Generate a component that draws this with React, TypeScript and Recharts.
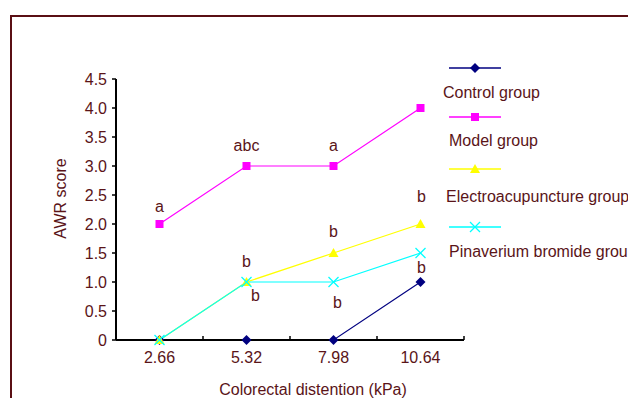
import React from "react";
import { LineChart, Line, XAxis, YAxis, LabelList, ReferenceLine } from "recharts";

const categories = ["2.66", "5.32", "7.98", "10.64"];
const controlValues = [0, 0, 0, 1];
const modelValues = [2, 3, 3, 4];
const electroValues = [0, 1, 1.5, 2];
const pinaveriumValues = [0, 1, 1, 1.5];
const controlMarks = ["", "", "", "b"];
const modelMarks = ["a", "abc", "a", ""];
const electroMarks = ["", "b", "b", "b"];
const pinaveriumMarks = ["", "b", "b", ""];
const yTicks = [0, 0.5, 1, 1.5, 2, 2.5, 3, 3.5, 4, 4.5];
const seriesNames = ["Control group", "Model group", "Electroacupuncture group", "Pinaverium bromide group"];
const xTitle = "Colorectal distention (kPa)";
const yTitle = "AWR score";

const data = categories.map((c, i) => ({
  x: i + 0.5,
  label: c,
  control: controlValues[i],
  model: modelValues[i],
  electro: electroValues[i],
  pina: pinaveriumValues[i],
}));

const TEXT = "#5a1418";
const FONT = "'Liberation Sans', Arial, sans-serif";
const COLORS = ["#000080", "#ff00ff", "#ffff00", "#00ffff"];

const Diamond = (p: any) => {
  const { cx, cy } = p;
  if (cx == null || cy == null) return null;
  return <polygon key={p.index} points={`${cx},${cy - 5} ${cx + 5},${cy} ${cx},${cy + 5} ${cx - 5},${cy}`} fill={COLORS[0]} />;
};
const Square = (p: any) => {
  const { cx, cy } = p;
  if (cx == null || cy == null) return null;
  return <rect key={p.index} x={cx - 4} y={cy - 4} width={8} height={8} fill={COLORS[1]} />;
};
const Triangle = (p: any) => {
  const { cx, cy } = p;
  if (cx == null || cy == null) return null;
  return <polygon key={p.index} points={`${cx},${cy - 5} ${cx + 5},${cy + 4} ${cx - 5},${cy + 4}`} fill={COLORS[2]} />;
};
const Cross = (p: any) => {
  const { cx, cy } = p;
  if (cx == null || cy == null) return null;
  return (
    <g key={p.index} stroke={COLORS[3]} strokeWidth={1.3}>
      <line x1={cx - 5} y1={cy - 5} x2={cx + 5} y2={cy + 5} />
      <line x1={cx - 5} y1={cy + 5} x2={cx + 5} y2={cy - 5} />
    </g>
  );
};

const markStyle: Record<string, { dx: number[]; dy: number[] }> = {
  control: { dx: [0, 0, 0, 1], dy: [0, 0, 0, -15] },
  model: { dx: [0, 0, 0, 0], dy: [-18, -21, -21, 0] },
  electro: { dx: [0, 0, 0, 1], dy: [0, -21, -22, -28] },
  pina: { dx: [0, 9, 4, 0], dy: [0, 13, 20, 0] },
};

const makeLabel = (marks: string[], key: string) => (props: any) => {
  const { x, y, index } = props;
  const t = marks[index];
  if (!t) return null;
  return (
    <text
      key={index}
      x={x + markStyle[key].dx[index]}
      y={y + markStyle[key].dy[index]}
      textAnchor="middle"
      dominantBaseline="central"
      fill={TEXT}
      fontSize={16}
      fontFamily={FONT}
    >
      {t}
    </text>
  );
};

const XTitle = (props: any) => {
  const vb = props.viewBox || {};
  const cx = vb.x + vb.width / 2 + 23;
  const cy = vb.y + 49;
  return (
    <text x={cx} y={cy} textAnchor="middle" dominantBaseline="central" fill={TEXT} fontSize={16} fontFamily={FONT}>
      {xTitle}
    </text>
  );
};

const YTitle = (props: any) => {
  const vb = props.viewBox || {};
  const cx = vb.x - 16;
  const cy = vb.y + vb.height / 2 - 11;
  return (
    <text
      x={cx}
      y={cy}
      transform={`rotate(-90 ${cx} ${cy})`}
      textAnchor="middle"
      dominantBaseline="central"
      fill={TEXT}
      fontSize={16}
      fontFamily={FONT}
    >
      {yTitle}
    </text>
  );
};

const legendLayout = [
  { lineTop: 0, textLeft: -3, textTop: 16 },
  { lineTop: 49, textLeft: 3, textTop: 64 },
  { lineTop: 101, textLeft: 0, textTop: 120 },
  { lineTop: 159, textLeft: 3, textTop: 175 },
];

const LegendMarker = ({ i }: { i: number }) => {
  const cx = 26, cy = 6;
  const marker =
    i === 0 ? <polygon points={`${cx},${cy - 5} ${cx + 5},${cy} ${cx},${cy + 5} ${cx - 5},${cy}`} fill={COLORS[0]} /> :
    i === 1 ? <rect x={cx - 4} y={cy - 4} width={8} height={8} fill={COLORS[1]} /> :
    i === 2 ? <polygon points={`${cx},${cy - 5} ${cx + 5},${cy + 4} ${cx - 5},${cy + 4}`} fill={COLORS[2]} /> :
    <g stroke={COLORS[3]} strokeWidth={1.3}><line x1={cx - 5} y1={cy - 5} x2={cx + 5} y2={cy + 5} /><line x1={cx - 5} y1={cy + 5} x2={cx + 5} y2={cy - 5} /></g>;
  return (
    <svg width={52} height={12} style={{ display: "block" }}>
      <line x1={0} y1={cy} x2={52} y2={cy} stroke={COLORS[i]} strokeWidth={1.3} />
      {marker}
    </svg>
  );
};

const CustomLegend = () => (
  <div style={{ position: "absolute", left: 438, top: 54, width: 200, height: 200, fontFamily: FONT, fontSize: 16, color: TEXT }}>
    {seriesNames.map((n, i) => (
      <React.Fragment key={n}>
        <div style={{ position: "absolute", left: 3, top: legendLayout[i].lineTop }}>
          <LegendMarker i={i} />
        </div>
        <div style={{ position: "absolute", left: legendLayout[i].textLeft, top: legendLayout[i].textTop + 6, whiteSpace: "nowrap", lineHeight: "18px" }}>
          {n}
        </div>
      </React.Fragment>
    ))}
  </div>
);

export default function App() {
  return (
    <div style={{ position: "relative", width: 628, height: 390, overflow: "hidden" }}>
      <div
        style={{
          position: "absolute",
          left: 2,
          top: 7,
          width: 640,
          height: 400,
          borderLeft: "2px solid #5a0f14",
          borderTop: "2px solid #5a0f14",
        }}
      />
      <div style={{ position: "absolute", left: 0, top: 0 }}>
        <LineChart width={628} height={390} data={data} margin={{ top: 71, right: 172, bottom: 0, left: 68 }}>
          <XAxis
            dataKey="x"
            type="number"
            domain={[0, 4]}
            ticks={data.map((d) => d.x)}
            tickFormatter={(v: number) => categories[Math.floor(v)]}
            tickLine={false}
            tickSize={8}
            tickMargin={4}
            axisLine={{ stroke: "#000", strokeWidth: 2 }}
            tick={{ fill: TEXT, fontSize: 16, fontFamily: FONT }}
            height={58}
            label={<XTitle />}
          />
          <YAxis
            type="number"
            domain={[0, 4.5]}
            ticks={yTicks}
            interval={0}
            tickFormatter={(v: number) => (v === 0 ? "0" : v.toFixed(1))}
            tickSize={4}
            tickMargin={5}
            tickLine={{ stroke: "#000", strokeWidth: 1.5 }}
            axisLine={{ stroke: "#000", strokeWidth: 2 }}
            tick={{ fill: TEXT, fontSize: 16, fontFamily: FONT }}
            width={40}
            label={<YTitle />}
          />
          {[1, 2, 3, 4].map((v) => (
            <ReferenceLine key={v} segment={[{ x: v, y: 0 }, { x: v, y: 0.07 }]} stroke="#000" strokeWidth={1.5} />
          ))}
          <Line dataKey="control" stroke={COLORS[0]} strokeWidth={1.2} dot={Diamond} isAnimationActive={false}>
            <LabelList dataKey="control" content={makeLabel(controlMarks, "control")} />
          </Line>
          <Line dataKey="model" stroke={COLORS[1]} strokeWidth={1.2} dot={Square} isAnimationActive={false}>
            <LabelList dataKey="model" content={makeLabel(modelMarks, "model")} />
          </Line>
          <Line dataKey="electro" stroke={COLORS[2]} strokeWidth={1.2} dot={Triangle} isAnimationActive={false}>
            <LabelList dataKey="electro" content={makeLabel(electroMarks, "electro")} />
          </Line>
          <Line dataKey="pina" stroke={COLORS[3]} strokeWidth={1.2} dot={Cross} isAnimationActive={false}>
            <LabelList dataKey="pina" content={makeLabel(pinaveriumMarks, "pina")} />
          </Line>
        </LineChart>
      </div>
      <CustomLegend />
    </div>
  );
}
